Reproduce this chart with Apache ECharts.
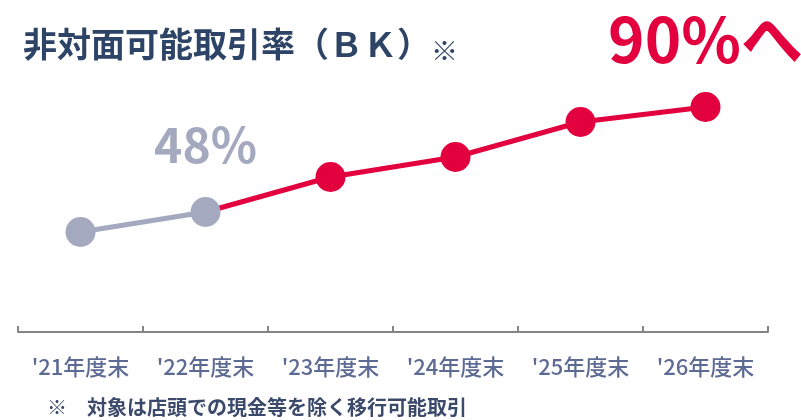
<!DOCTYPE html>
<html>
<head>
<meta charset="utf-8">
<script src="https://cdn.jsdelivr.net/npm/echarts@6/dist/echarts.min.js"></script>
<style>
  html, body { margin: 0; padding: 0; background: #fff; }
  #chart { width: 801px; height: 420px; }
</style>
</head>
<body>
<div id="chart"></div>
<script>
// 年度末カテゴリ
const categories = ["'21年度末", "'22年度末", "'23年度末", "'24年度末", "'25年度末", "'26年度末"]
// 実績（グレー）
const actualValues = [40, 48, null, null, null, null]
// 計画（赤）
const planValues = [null, 48, 62, 70, 84, 90]
// ラベル
const actualLabel = '48%'
const planLabel = '90%へ'

const RED = '#e3003e'
const GREY = '#a4a9bf'
const FONT = '"Noto Sans CJK JP", "Noto Sans", sans-serif'

const chart = echarts.init(document.getElementById('chart'))

const option = {
  animation: false,
  title: {
    text: '{a|非対面可能取引率（ＢＫ）}{b|※}',
    left: 18,
    top: 20,
    textStyle: {
      rich: {
        a: { fontSize: 34, fontWeight: 'bold', color: '#2e4466', fontFamily: FONT },
        b: { fontSize: 27, color: '#2e4466', fontFamily: FONT, padding: [12, 0, 0, 0] }
      }
    }
  },
  graphic: [
    {
      type: 'text',
      left: 47,
      top: 397,
      style: {
        text: '※　対象は店頭での現金等を除く移行可能取引',
        font: 'bold 20px ' + FONT,
        fill: '#3b4a6b'
      }
    }
  ],
  grid: {
    left: 18,
    right: 33,
    top: 82,
    bottom: 88
  },
  xAxis: {
    type: 'category',
    data: categories,
    boundaryGap: true,
    axisLine: { show: true, lineStyle: { color: '#858585', width: 2 } },
    axisTick: { show: true, interval: 0, inside: true, length: 6, lineStyle: { color: '#858585', width: 2 } },
    axisLabel: {
      interval: 0,
      hideOverlap: false,
      margin: 24,
      fontSize: 22,
      fontWeight: 500,
      color: '#5d6a93',
      fontFamily: FONT
    }
  },
  yAxis: {
    type: 'value',
    min: 0,
    max: 100,
    show: false
  },
  series: [
    {
      type: 'line',
      data: planValues.map((v, i) => ({
        value: v,
        // '22の点はグレー側で描く
        symbolSize: i === 1 ? 0 : 30,
        label: i === planValues.length - 1 ? {
          show: true,
          position: 'top',
          distance: 22,
          formatter: planLabel,
          fontSize: 62,
          fontWeight: 'bold',
          color: RED,
          fontFamily: FONT
        } : { show: false }
      })),
      symbol: 'circle',
      showAllSymbol: true,
      lineStyle: { color: RED, width: 5 },
      itemStyle: { color: RED },
      z: 2
    },
    {
      type: 'line',
      data: actualValues.map((v, i) => ({
        value: v,
        label: i === 1 ? {
          show: true,
          position: 'top',
          distance: 28,
          formatter: actualLabel,
          fontSize: 48,
          fontWeight: 'bold',
          color: GREY,
          fontFamily: FONT
        } : { show: false }
      })),
      symbol: 'circle',
      symbolSize: 30,
      lineStyle: { color: GREY, width: 5 },
      itemStyle: { color: GREY },
      z: 3
    }
  ]
}

chart.setOption(option)
</script>
</body>
</html>
